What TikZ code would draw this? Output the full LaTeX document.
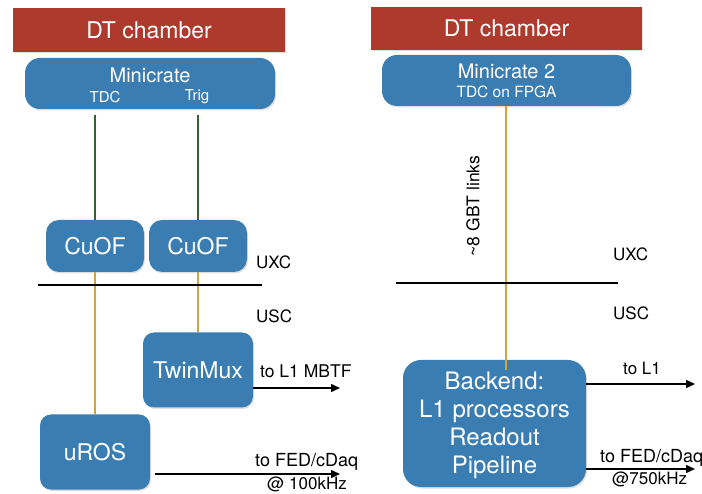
\documentclass[tikz,border=0pt]{standalone}
\usepackage{fontspec}
\setmainfont{TeX Gyre Heros}
\usetikzlibrary{arrows.meta,shadows}
\definecolor{dtred}{HTML}{AE3A2E}
\definecolor{boxblue}{HTML}{3A7DB2}
\definecolor{gold}{HTML}{D4A33A}
\definecolor{dkgreen}{HTML}{2E6430}
\tikzset{
  chamber/.style={fill=dtred, draw=none, text=white, inner sep=0pt, drop shadow={opacity=0.25, shadow xshift=1pt, shadow yshift=-1pt}},
  bluebox/.style={fill=boxblue, draw=none, text=white, inner sep=0pt, align=center, drop shadow={opacity=0.25, shadow xshift=1pt, shadow yshift=-1.5pt}},
  gline/.style={draw=dkgreen, line width=1.3pt},
  yline/.style={draw=gold, line width=1.3pt},
  sep/.style={draw=black, line width=1.2pt},
  outarrow/.style={draw=black, line width=1.5pt, -{Triangle[length=9pt,width=8pt]}},
  lbl/.style={text=black, inner sep=0pt},
}
\newcommand{\fs}[1]{\fontsize{#1}{#1}\selectfont}
\begin{document}
\begin{tikzpicture}[x=1pt,y=-1pt]
\useasboundingbox (0,0) rectangle (702,494);
% ---------- left ----------
\node[chamber, minimum width=272pt, minimum height=44pt] (chL) at (149,30) {\fs{23}DT chamber};
\path[bluebox, rounded corners=15pt] (25,58) rectangle (275,109);
\node[text=white, inner sep=0pt] (mcL) at (150,75) {\fs{20}Minicrate};
\node[text=white, inner sep=0pt] (tdc) at (105,97) {\fs{15}TDC};
\node[text=white, inner sep=0pt] (trig) at (197,97) {\fs{15}Trig};
\coordinate (tdcb) at (95,115);
\coordinate (trigb) at (198,115);
\node[bluebox, rounded corners=13pt, minimum width=98pt, minimum height=52pt] (cuofL) at (95,246) {\fs{23}CuOF};
\node[bluebox, rounded corners=13pt, minimum width=98pt, minimum height=52pt] (cuofR) at (198,246) {\fs{23}CuOF};
\node[bluebox, rounded corners=11pt, minimum width=110pt, minimum height=75pt] (twin) at (198,370) {\fs{23}TwinMux};
\node[bluebox, rounded corners=11pt, minimum width=110pt, minimum height=75pt] (uros) at (95,452) {\fs{23}uROS};
\draw[gline] (tdcb) -- (cuofL.north);
\draw[gline] (trigb) -- (cuofR.north);
\draw[yline] (cuofL.south) -- (uros.north);
\draw[yline] (cuofR.south) -- (twin.north);
\coordinate (sepLa) at (38,285);
\coordinate (sepLb) at (262,285);
\draw[sep] (sepLa) -- (sepLb);
\node[lbl, anchor=west] (uxcL) at (256,262) {\fs{17}UXC};
\node[lbl, anchor=west] (uscL) at (256,316) {\fs{17}USC};
\coordinate (twinEnd) at (340,388);
\draw[outarrow] (twin.east |- twinEnd) -- (twinEnd);
\node[lbl, anchor=west] (l1mbtf) at (260,371) {\fs{17.5}to L1 MBTF};
\coordinate (urosStart) at (155,474);
\coordinate (urosEnd) at (340,474);
\draw[outarrow] (urosStart) -- (urosEnd);
\node[lbl, anchor=west] (fedL) at (255,462) {\fs{18}to FED/cDaq};
\node[lbl, anchor=west] (rateL) at (267,484) {\fs{17}@ 100kHz};
% ---------- right ----------
\node[chamber, minimum width=271pt, minimum height=43pt] (chR) at (506.5,28.5) {\fs{23}DT chamber};
\node[bluebox, rounded corners=15pt, minimum width=249pt, minimum height=51pt] (mcR) at (506.5,80.5) {};
\node[text=white, inner sep=0pt] (mc2) at (506.5,71) {\fs{20}Minicrate 2};
\node[text=white, inner sep=0pt] (fpga) at (506.5,92) {\fs{15.5}TDC on FPGA};
\node[bluebox, rounded corners=18pt, minimum width=183pt, minimum height=127pt] (back) at (494.5,423.5) {};
\node[text=white, inner sep=0pt, align=center, font=\fontsize{24}{28}\selectfont] (backtxt) at (494.5,425) {Backend:\\L1 processors\\Readout\\Pipeline};
\coordinate (linkEnd) at (506,370);
\draw[yline] (mcR.south -| linkEnd) -- (linkEnd);
\node[lbl, rotate=90] (gbt) at (473,206) {\fs{17.5}\textasciitilde8 GBT links};
\coordinate (sepRa) at (396,283);
\coordinate (sepRb) at (618,283);
\draw[sep] (sepRa) -- (sepRb);
\node[lbl, anchor=west] (uxcR) at (613,254) {\fs{17}UXC};
\node[lbl, anchor=west] (uscR) at (613,313) {\fs{17}USC};
\coordinate (l1End) at (695,384);
\draw[outarrow] (back.east |- l1End) -- (l1End);
\node[lbl, anchor=west] (l1) at (623,368) {\fs{17}to L1};
\coordinate (fedEnd) at (695,469);
\draw[outarrow] (back.east |- fedEnd) -- (fedEnd);
\node[lbl, anchor=west] (fedR) at (600,458) {\fs{18}to FED/cDaq};
\node[lbl, anchor=west] (rateR) at (612,479) {\fs{17}@750kHz};
\end{tikzpicture}
\end{document}
